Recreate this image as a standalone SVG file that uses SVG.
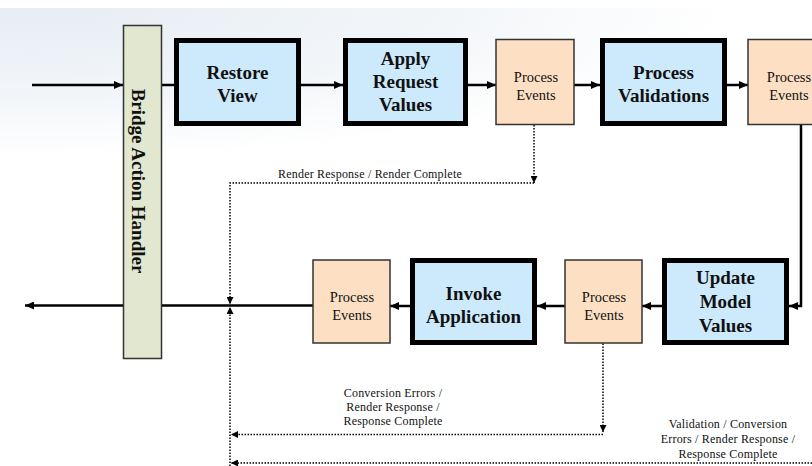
<svg xmlns="http://www.w3.org/2000/svg" width="812" height="466" viewBox="0 0 812 466">
<defs>
<radialGradient id="bg" gradientUnits="userSpaceOnUse" cx="0" cy="0" r="1" gradientTransform="translate(30,8) scale(700,150)">
<stop offset="0" stop-color="#e6edf4"/>
<stop offset="0.6" stop-color="#f3f6f9"/>
<stop offset="1" stop-color="#ffffff"/>
</radialGradient>
<marker id="ah" markerUnits="userSpaceOnUse" markerWidth="9" markerHeight="8" refX="9" refY="4" orient="auto">
<path d="M0,0 L9,4 L0,8 z" fill="#000"/>
</marker>
<marker id="ad" markerUnits="userSpaceOnUse" markerWidth="7" markerHeight="7" refX="7" refY="3.5" orient="auto">
<path d="M0,0 L7,3.5 L0,7 z" fill="#000"/>
</marker>
<style>
.phase{fill:#cdeafc;stroke:#000;stroke-width:5}
.pe{fill:#fde0c4;stroke:#333;stroke-width:1.5}
.bridge{fill:#e2e7d0;stroke:#333;stroke-width:1.5}
.bt{font-family:"Liberation Serif","Times New Roman",serif;font-weight:bold;font-size:19px;fill:#111;text-anchor:middle}
.pt{font-family:"Liberation Serif","Times New Roman",serif;font-size:14.5px;fill:#111;text-anchor:middle}
.lt{font-family:"Liberation Serif","Times New Roman",serif;font-size:12px;fill:#111;text-anchor:middle;letter-spacing:0.2px}
.solid{fill:none;stroke:#000;stroke-width:2.5}
.dot{fill:none;stroke:#000;stroke-width:1.5;stroke-dasharray:1.5 1.5}
</style>
</defs>
<rect x="0" y="0" width="812" height="466" fill="#fff"/>
<rect x="0" y="8" width="812" height="150" fill="url(#bg)"/>

<g id="connectors">
<line class="solid" x1="32" y1="85" x2="123" y2="85" marker-end="url(#ah)"/>
<line class="solid" x1="161" y1="85" x2="174" y2="85"/>
<line class="solid" x1="301" y1="85" x2="343" y2="85" marker-end="url(#ah)"/>
<line class="solid" x1="468" y1="85" x2="496" y2="85" marker-end="url(#ah)"/>
<line class="solid" x1="574" y1="85" x2="600" y2="85" marker-end="url(#ah)"/>
<line class="solid" x1="727" y1="85" x2="748" y2="85" marker-end="url(#ah)"/>
<path class="solid" d="M801,124.5 V306 H789" marker-end="url(#ah)"/>
<line class="solid" x1="662" y1="306" x2="642" y2="306" marker-end="url(#ah)"/>
<line class="solid" x1="565" y1="306" x2="537" y2="306" marker-end="url(#ah)"/>
<line class="solid" x1="410" y1="306" x2="390" y2="306" marker-end="url(#ah)"/>
<line class="solid" x1="313" y1="305.5" x2="161" y2="305.5"/>
<line class="solid" x1="123" y1="305.5" x2="25" y2="305.5" stroke-width="2" marker-end="url(#ah)"/>

<path class="dot" d="M534,125 V183" marker-end="url(#ad)"/>
<path class="dot" d="M534,183 H230 V304" marker-end="url(#ad)"/>
<path class="dot" d="M603,343.5 V432" marker-end="url(#ad)"/>
<path class="dot" d="M603,434.5 H231" marker-end="url(#ad)"/>
<path class="dot" d="M812,463 H231" marker-end="url(#ad)"/>
<path class="dot" d="M230,466 V307" marker-end="url(#ad)"/>

<text class="lt" x="370" y="178">Render Response / Render Complete</text>
<text class="lt" x="393" y="397">Conversion Errors /</text>
<text class="lt" x="393" y="411">Render Response /</text>
<text class="lt" x="393" y="425">Response Complete</text>
<text class="lt" x="728" y="428">Validation / Conversion</text>
<text class="lt" x="728" y="443">Errors / Render Response /</text>
<text class="lt" x="728" y="458">Response Complete</text>
</g>

<g id="bridge">
<rect class="bridge" x="123.5" y="25.5" width="38" height="333"/>
<text class="bt" transform="translate(131.5,181) rotate(90)" x="0" y="0">Bridge Action Handler</text>
</g>

<g id="restore-view">
<rect class="phase" x="176.5" y="40.5" width="122" height="83"/>
<text class="bt" x="237.5" y="79">Restore</text>
<text class="bt" x="237.5" y="102">View</text>
</g>

<g id="apply-request-values">
<rect class="phase" x="345.5" y="40.5" width="120" height="83"/>
<text class="bt" x="405.5" y="65">Apply</text>
<text class="bt" x="405.5" y="88">Request</text>
<text class="bt" x="405.5" y="111">Values</text>
</g>

<g id="process-events-1">
<rect class="pe" x="496" y="39.5" width="78" height="85"/>
<text class="pt" x="536" y="81.5">Process</text>
<text class="pt" x="536" y="99.5">Events</text>
</g>

<g id="process-validations">
<rect class="phase" x="602.5" y="40.5" width="122" height="83"/>
<text class="bt" x="663.5" y="79">Process</text>
<text class="bt" x="663.5" y="102">Validations</text>
</g>

<g id="process-events-2">
<rect class="pe" x="748" y="39.5" width="80" height="85"/>
<text class="pt" x="789" y="81.5">Process</text>
<text class="pt" x="789" y="99.5">Events</text>
</g>

<g id="update-model-values">
<rect class="phase" x="664.5" y="260.5" width="122" height="82"/>
<text class="bt" x="725.5" y="284">Update</text>
<text class="bt" x="725.5" y="308">Model</text>
<text class="bt" x="725.5" y="332">Values</text>
</g>

<g id="process-events-3">
<rect class="pe" x="565" y="260" width="77" height="83"/>
<text class="pt" x="604" y="301.5">Process</text>
<text class="pt" x="604" y="320">Events</text>
</g>

<g id="invoke-application">
<rect class="phase" x="412.5" y="260.5" width="122" height="82"/>
<text class="bt" x="473.5" y="299.5">Invoke</text>
<text class="bt" x="473.5" y="323">Application</text>
</g>

<g id="process-events-4">
<rect class="pe" x="313" y="260" width="77" height="83"/>
<text class="pt" x="352" y="301.5">Process</text>
<text class="pt" x="352" y="320">Events</text>
</g>
</svg>
